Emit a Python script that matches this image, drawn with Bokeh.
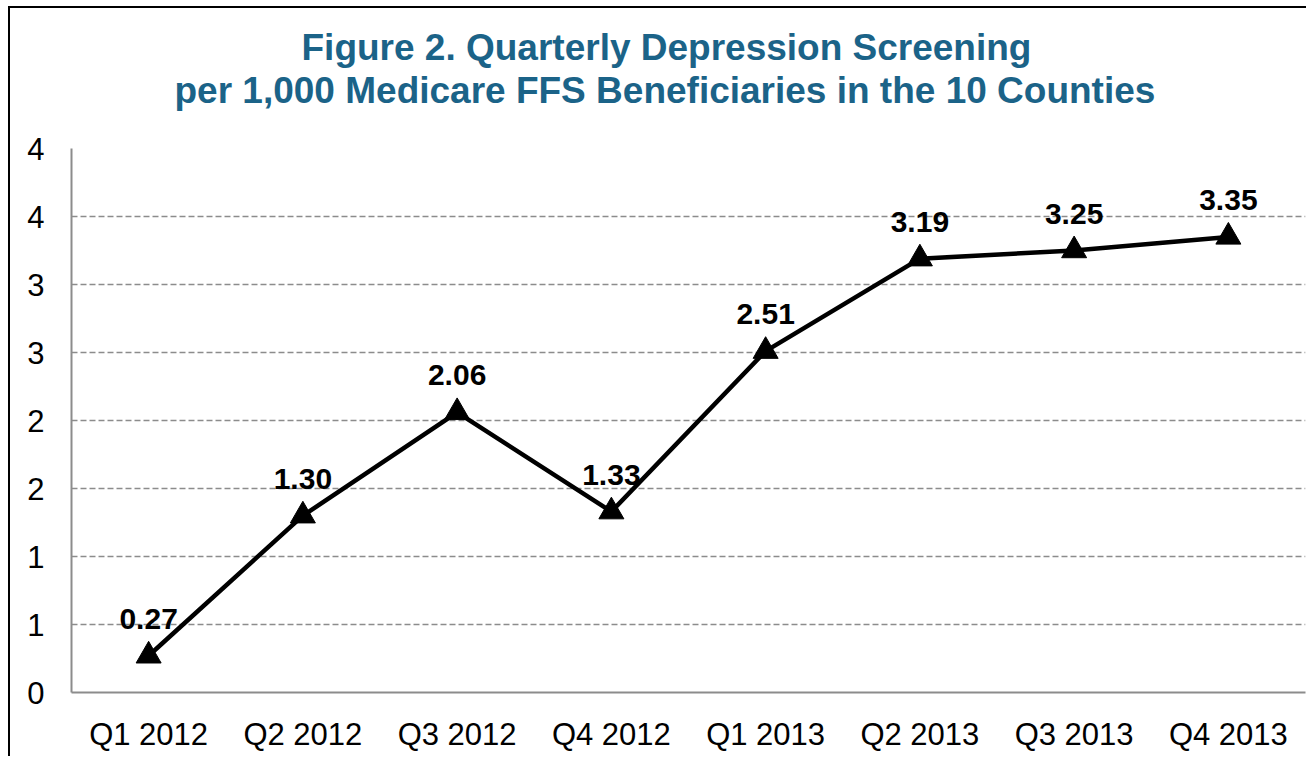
from bokeh.plotting import figure
from bokeh.models import ColumnDataSource, FactorRange, Range1d, FixedTicker, Title
from bokeh.core.properties import value
from bokeh.embed import file_html
from bokeh.resources import INLINE

quarters = ["Q1 2012", "Q2 2012", "Q3 2012", "Q4 2012", "Q1 2013", "Q2 2013", "Q3 2013", "Q4 2013"]
rates = [0.27, 1.30, 2.06, 1.33, 2.51, 3.19, 3.25, 3.35]
y_ticks = [0, 0.5, 1.0, 1.5, 2.0, 2.5, 3.0, 3.5, 4.0]
y_tick_labels = ["0", "1", "1", "2", "2", "3", "3", "4", "4"]
title_line1 = "Figure 2. Quarterly Depression Screening"
title_line2 = "per 1,000 Medicare FFS Beneficiaries in the 10 Counties"

FONT = "Liberation Sans"
TITLE_COLOR = "#1B6388"

src = ColumnDataSource(dict(q=quarters, v=rates, lab=[f"{r:.2f}" for r in rates]))

p = figure(x_range=FactorRange(*quarters, range_padding=0), y_range=Range1d(0, 4),
           width=1298, height=750, output_backend="svg", toolbar_location=None,
           min_border_left=61, min_border_right=3, min_border_top=140, min_border_bottom=66)
p.styles = {"border-top": "2px solid black", "border-left": "2px solid black",
            "margin-left": "8px", "margin-top": "6px"}

p.outline_line_color = None
p.background_fill_color = "white"
p.border_fill_color = "white"

# title panels: spacer nearest the frame, then line 2, then line 1
p.add_layout(Title(text=" ", text_font=FONT, text_font_size="32px", standoff=0), "above")
p.add_layout(Title(text=title_line2, align="left", offset=103, text_font=FONT,
                   text_font_size="37px", text_font_style="bold", text_color=TITLE_COLOR,
                   standoff=0), "above")
p.add_layout(Title(text=title_line1, align="left", offset=230, text_font=FONT,
                   text_font_size="37px", text_font_style="bold", text_color=TITLE_COLOR,
                   standoff=0), "above")

# grid
p.xgrid.grid_line_color = None
p.ygrid.grid_line_color = "#8C8C8C"
p.ygrid.grid_line_width = 1.5
p.ygrid.grid_line_dash = "6 3"

# axes
for ax in (p.xaxis[0], p.yaxis[0]):
    ax.axis_line_color = "#8C8C8C"
    ax.axis_line_width = 2
    ax.major_tick_line_color = None
    ax.minor_tick_line_color = None
    ax.major_tick_out = 0
    ax.major_tick_in = 0
    ax.major_label_text_font = FONT
    ax.major_label_text_font_size = "31px"
    ax.major_label_text_color = "black"

p.yaxis.ticker = FixedTicker(ticks=y_ticks)
p.yaxis.major_label_overrides = {t: l for t, l in zip(y_ticks, y_tick_labels)}
p.yaxis.major_label_standoff = 27
p.xaxis.major_label_standoff = 24

p.line("q", "v", source=src, line_color="black", line_width=4.5)
p.scatter("q", "v", source=src, marker="triangle", size=25, fill_color="black", line_color="black")
p.text("q", "v", text="lab", source=src, text_font=value(FONT), text_font_size="30px",
       text_font_style="bold", text_color="black", text_align="center",
       text_baseline="alphabetic", y_offset=-37)

open("out.html", "w").write(file_html(p, INLINE))
